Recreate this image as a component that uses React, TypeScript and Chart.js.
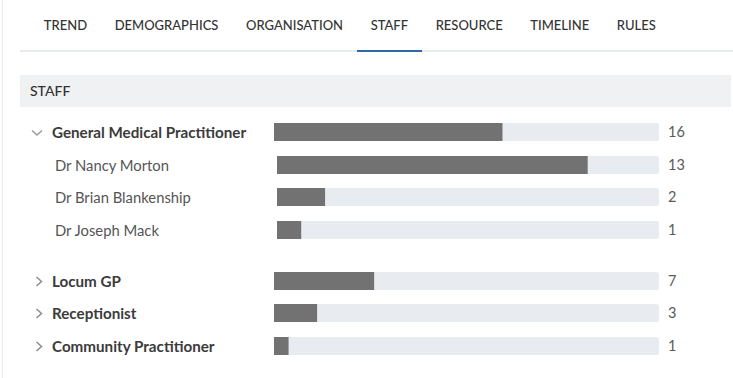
import React, { useEffect, useRef } from "react";
import { Chart, registerables } from "chart.js";

Chart.register(...registerables);

const tabLabels = ["TREND", "DEMOGRAPHICS", "ORGANISATION", "STAFF", "RESOURCE", "TIMELINE", "RULES"];
const activeTab = "STAFF";
const sectionTitle = "STAFF";

const groupLabels = ["General Medical Practitioner", "Locum GP", "Receptionist", "Community Practitioner"];
const groupCounts = [16, 7, 3, 1];
const expandedGroup = "General Medical Practitioner";
const gmpStaffNames = ["Dr Nancy Morton", "Dr Brian Blankenship", "Dr Joseph Mack"];
const gmpStaffCounts = [13, 2, 1];

const FONT = "Lato, 'Noto Sans', sans-serif";
const FILL = "#727272";
const TRACK = "#e8ebef";

function BarCanvas({ label, value, max, width }: { label: string; value: number; max: number; width: number }) {
  const ref = useRef<HTMLCanvasElement | null>(null);
  useEffect(() => {
    if (!ref.current) return;
    const chart = new Chart(ref.current, {
      type: "bar",
      data: {
        labels: [label],
        datasets: [
          {
            data: [value],
            backgroundColor: FILL,
            barPercentage: 1,
            categoryPercentage: 1,
            grouped: false,
            order: 0,
            borderWidth: 0,
          },
          {
            data: [max],
            backgroundColor: TRACK,
            barPercentage: 1,
            categoryPercentage: 1,
            grouped: false,
            order: 1,
            borderWidth: 0,
            borderRadius: 4,
            borderSkipped: false,
          },
        ],
      },
      options: {
        indexAxis: "y",
        animation: false,
        responsive: false,
        maintainAspectRatio: false,
        layout: { padding: 0 },
        plugins: { legend: { display: false }, tooltip: { enabled: false } },
        scales: {
          x: { display: false, min: 0, max: max },
          y: { display: false },
        },
      },
    } as any);
    return () => chart.destroy();
  }, [label, value, max, width]);
  return <canvas ref={ref} width={width} height={18} style={{ display: "block", width, height: 18 }} />;
}

function Chevron({ open }: { open: boolean }) {
  if (open) {
    return (
      <svg width="12" height="8" style={{ position: "absolute", left: 31, top: 13 }}>
        <polyline points="1,1.5 6,6 11,1.5" fill="none" stroke="#9a9a9a" strokeWidth="1.5" />
      </svg>
    );
  }
  return (
    <svg width="9" height="11" style={{ position: "absolute", left: 35, top: 11 }}>
      <polyline points="1.5,1 6.5,5.5 1.5,10" fill="none" stroke="#8f8f8f" strokeWidth="1.6" />
    </svg>
  );
}

function Row({
  label,
  value,
  max,
  child,
  open,
  height,
  marginTop,
}: {
  label: string;
  value: number;
  max: number;
  child: boolean;
  open?: boolean;
  height: number;
  marginTop?: number;
}) {
  const barLeft = child ? 277 : 274;
  const barWidth = 659 - barLeft;
  return (
    <div style={{ position: "relative", height, marginTop: marginTop || 0 }}>
      {!child && <Chevron open={!!open} />}
      <div
        style={{
          position: "absolute",
          left: child ? 55 : 52,
          top: 7,
          height: 18,
          lineHeight: "18px",
          fontSize: child ? 14.8 : 15.2,
          fontWeight: child ? 400 : 700,
          color: child ? "#555" : "#3b3b3b",
          whiteSpace: "nowrap",
        }}
      >
        {label}
      </div>
      <div style={{ position: "absolute", left: barLeft, top: 7 }}>
        <BarCanvas label={label} value={value} max={max} width={barWidth} />
      </div>
      <div
        style={{
          position: "absolute",
          left: 668,
          top: 7,
          height: 18,
          lineHeight: "18px",
          fontSize: 14.5,
          color: "#5a5a5a",
        }}
      >
        {value}
      </div>
    </div>
  );
}

export default function App() {
  const total = groupCounts.reduce((a, b) => a + b, 0);
  const gmpIndex = groupLabels.indexOf(expandedGroup);
  const gmpTotal = gmpStaffCounts.reduce((a, b) => a + b, 0);
  const rows: React.ReactNode[] = [];
  const heightsA = [33, 32, 33, 33];
  const heightsB = [32, 33, 33];
  rows.push(
    <Row key="g0" label={groupLabels[gmpIndex]} value={groupCounts[gmpIndex]} max={total} child={false} open height={heightsA[0]} />
  );
  gmpStaffNames.forEach((n, i) => {
    rows.push(<Row key={"c" + i} label={n} value={gmpStaffCounts[i]} max={gmpTotal} child height={heightsA[i + 1]} />);
  });
  groupLabels.forEach((g, i) => {
    if (i === gmpIndex) return;
    const k = rows.length - 4;
    rows.push(
      <Row key={"g" + i} label={g} value={groupCounts[i]} max={total} child={false} height={heightsB[k]} marginTop={k === 0 ? 18 : 0} />
    );
  });

  return (
    <div
      style={{
        position: "fixed",
        left: 0,
        top: 0,
        width: 733,
        height: 378,
        background: "#fff",
        fontFamily: FONT,
        overflow: "hidden",
      }}
    >
      <div style={{ position: "absolute", left: 2, top: 0, width: 1, height: 378, background: "#e9e9e9" }} />
      <div
        style={{
          position: "absolute",
          left: 20,
          top: 0,
          right: 0,
          height: 50,
          borderBottom: "2px solid #e9ecef",
          display: "flex",
          paddingLeft: 10,
        }}
      >
        {tabLabels.map((t) => (
          <div
            key={t}
            style={{
              height: 50,
              lineHeight: "50px",
              padding: "0 13.8px",
              fontSize: 13,
              fontWeight: 500,
              color: "#333",
              borderBottom: t === activeTab ? "2px solid #2c6aa8" : "2px solid transparent",
              marginBottom: -2,
              boxSizing: "content-box",
            }}
          >
            {t}
          </div>
        ))}
      </div>
      <div
        style={{
          position: "absolute",
          left: 20,
          top: 75,
          width: 711,
          height: 32,
          background: "#f0f1f3",
          lineHeight: "32px",
          paddingLeft: 10,
          boxSizing: "border-box",
          fontSize: 14,
          fontWeight: 500,
          color: "#333",
        }}
      >
        {sectionTitle}
      </div>
      <div style={{ position: "absolute", left: 0, top: 116, width: 733 }}>{rows}</div>
    </div>
  );
}
